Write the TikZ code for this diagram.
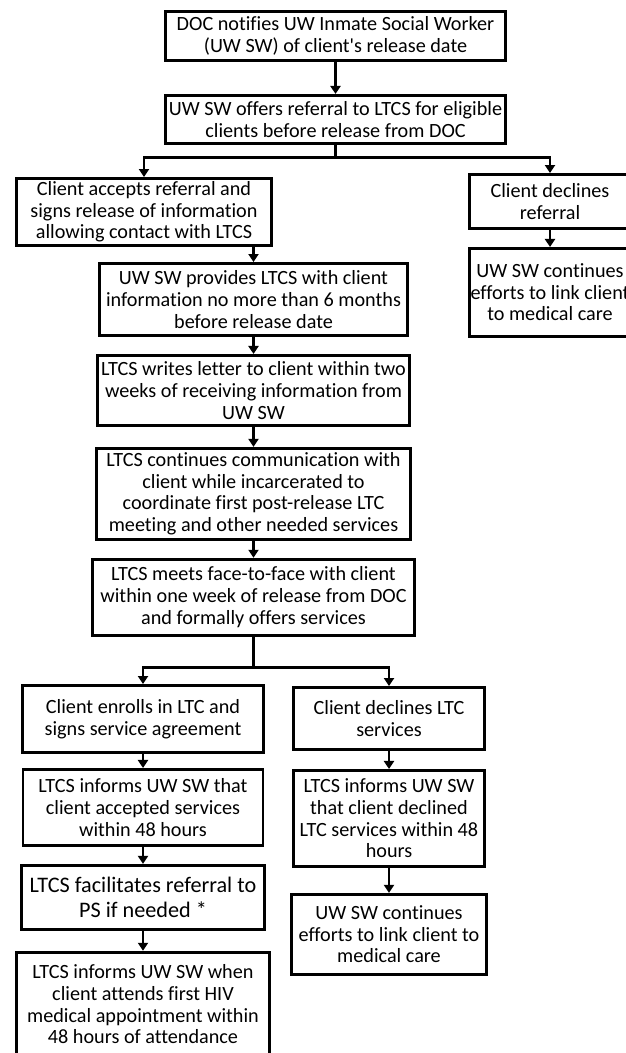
\documentclass[tikz,border=0pt]{standalone}
\usepackage{fontspec}
\setmainfont[Ligatures={NoCommon}]{Carlito}
\usepackage{tikz}
\usetikzlibrary{positioning}
\usetikzlibrary{arrows.meta}

\begin{document}
\begin{tikzpicture}[
x=1pt, y=-1pt,
box/.style={rectangle, draw=black, fill=white, line width=2.9pt, inner sep=1pt, align=center,
  font=\fontsize{20.2pt}{21.7pt}\selectfont},
arr/.style={draw=black, line width=2.9pt, -{Triangle[width=10pt, length=8pt]}},
]
\useasboundingbox (0,0) rectangle (626,1053);

\node[box, minimum width=340pt, minimum height=49pt] (notify) at (335.5,36) {DOC notifies UW Inmate Social Worker\\(UW SW) of client\textquotesingle s release date};
\node[box, minimum width=340pt, minimum height=48pt] (offer) [below=32pt of notify] {UW SW offers referral to LTCS for eligible\\clients before release from DOC};
\coordinate[below=13pt of offer] (split1);

\node[box, minimum width=255pt, minimum height=67pt] (accept) at (144,212) {Client accepts referral and\\signs release of information\\allowing contact with LTCS};
\node[box, minimum width=161pt, minimum height=54pt] (declref) at (550,201.5) {Client declines\\referral};
\node[box, minimum width=161pt, minimum height=88pt] (linkref) [below=17pt of declref] {UW SW continues\\efforts to link client\\to medical care};

\node[box, minimum width=308pt, minimum height=72pt] (provide) at (253.5,299.5) {UW SW provides LTCS with client\\information no more than 6 months\\before release date};
\node[box, minimum width=312pt, minimum height=70pt] (letter) [below=17pt of provide] {LTCS writes letter to client within two\\weeks of receiving information from\\UW SW};
\node[box, minimum width=314pt, minimum height=91pt] (contact) [below=20pt of letter] {LTCS continues communication with\\client while incarcerated to\\coordinate first post-release LTC\\meeting and other needed services};
\node[box, minimum width=322pt, minimum height=76pt] (meet) [below=17pt of contact] {LTCS meets face-to-face with client\\within one week of release from DOC\\and formally offers services};
\coordinate[below=31pt of meet] (split2);

\node[box, minimum width=241pt, minimum height=67pt] (enroll) at (143,719) {Client enrolls in LTC and\\signs service agreement};
\node[box, minimum width=240pt, minimum height=76pt] (informacc) [below=14pt of enroll] {LTCS informs UW SW that\\client accepted services\\within 48 hours};
\node[box, minimum width=243pt, minimum height=64pt, font=\fontsize{22.2pt}{24.6pt}\selectfont] (facil) [below=17pt of informacc] {LTCS facilitates referral to\\PS if needed *};
\node[box, minimum width=253pt, minimum height=104pt] (hivmed) [below=20pt of facil] {LTCS informs UW SW when\\client attends first HIV\\medical appointment within\\48 hours of attendance};

\node[box, minimum width=191pt, minimum height=62pt] (declltc) at (389,718.5) {Client declines LTC\\services};
\node[box, minimum width=191pt, minimum height=96pt] (informdecl) [below=18pt of declltc] {LTCS informs UW SW\\that client declined\\LTC services within 48\\hours};
\node[box, minimum width=195pt, minimum height=80pt] (linkltc) [below=25pt of informdecl] {UW SW continues\\efforts to link client to\\medical care};

\draw[arr] (notify.south) -- (offer.north);
\draw[arr] (offer.south) -- (split1) -| (accept.north);
\draw[arr] (split1) -| (declref.north);
\draw[arr] (declref.south) -- (linkref.north);

\draw[arr] (provide.north |- accept.south) -- (provide.north);
\draw[arr] (provide.south) -- (letter.north);
\draw[arr] (letter.south) -- (contact.north);
\draw[arr] (contact.south) -- (meet.north);

\draw[arr] (meet.south) -- (split2) -| (enroll.north);
\draw[arr] (split2) -| (declltc.north);

\draw[arr] (enroll.south) -- (informacc.north);
\draw[arr] (informacc.south) -- (facil.north);
\draw[arr] (facil.south) -- (hivmed.north);

\draw[arr] (declltc.south) -- (informdecl.north);
\draw[arr] (informdecl.south) -- (linkltc.north);
\end{tikzpicture}
\end{document}
